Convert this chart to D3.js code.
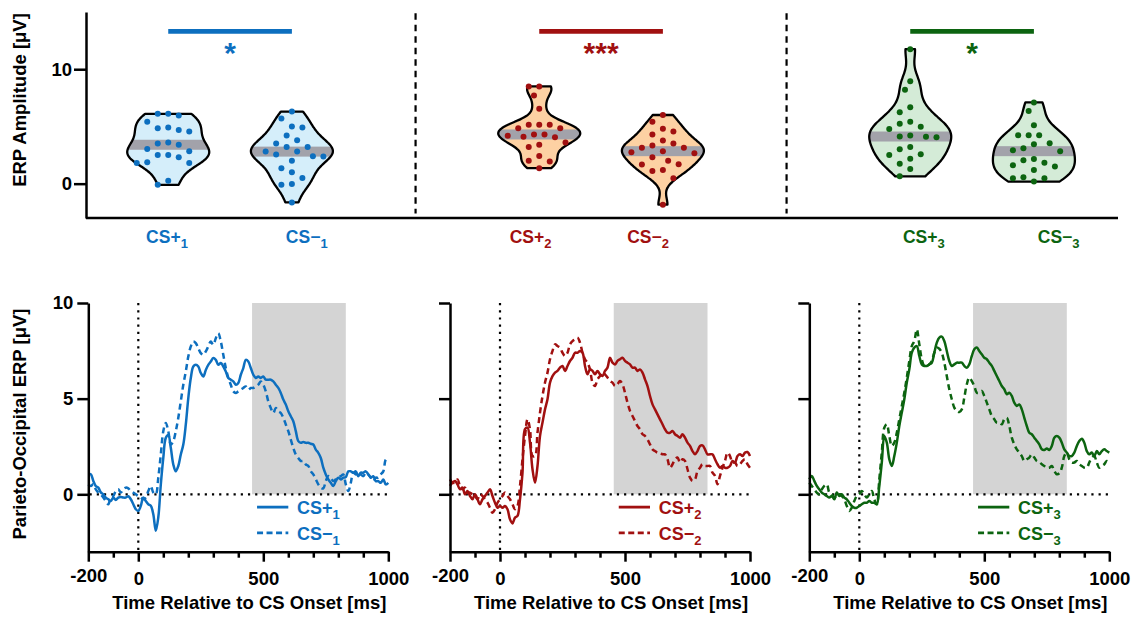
<!DOCTYPE html>
<html><head><meta charset="utf-8">
<script src="https://cdn.jsdelivr.net/npm/d3@7"></script>
<style>
html,body{margin:0;padding:0;background:#fff;}
svg{display:block;font-family:"Liberation Sans",Arial,sans-serif;font-weight:bold;}
</style></head>
<body><svg id="c" width="1134" height="617"></svg>
<script>
// ---------- DATA ----------
const pairNames = ["1","2","3"];
const seriesColors = ["#0d6fbf","#a11010","#0c6410"];
const violinFills = ["#d5eefa","#fdd1a3","#d4ebd7"];
const significance = ["*","***","*"];
const topTicks = [0,10];
const bottomYTicks = [0,5,10];
const bottomXLabels = [-200,0,500,1000];
const shadeWindow = [455,830];
// per-participant ERP amplitudes (µV)
const csPlus1  = [6.1,6.1,5.96,5.4,4.9,4.85,4.7,4.56,3.5,3.4,3.6,3.04,2.5,2.5,2.83,2.3,1.8,1.8,1.87,0.26,-0.1];
const csMinus1 = [6.3,5.7,4.9,5.0,4.2,3.8,3.5,3.2,3.2,2.8,2.8,2.54,2.4,2.37,2.0,1.35,1.0,0.5,-0.03,-0.1,-1.64];
const csPlus2  = [8.5,8.5,7.7,6.55,5.15,5.15,5.15,4.85,4.85,4.3,4.3,4.06,4.1,4.18,3.4,3.2,3.6,2.42,1.93,2.0,1.35];
const csMinus2 = [6.0,5.4,4.56,4.8,4.3,3.77,3.5,3.13,3.13,3.33,2.84,2.66,2.75,2.3,2.0,1.67,1.7,1.1,1.2,0.47,-1.84];
const csPlus3  = [11.75,8.95,8.2,6.67,6.23,5.4,5.23,4.97,4.77,4.1,4.12,4.2,4.06,3.0,3.2,2.57,2.5,2.17,1.73,1.29,0.64];
const csMinus3 = [7.1,6.35,5.1,4.24,4.24,4.24,3.45,3.53,2.92,2.84,3.1,1.82,2.05,2.16,1.6,1.2,1.49,0.56,0.47,0.47,0.18];
// category label positions (category units), order: CS+1, CS-1, CS+2, CS-2, CS+3, CS-3
const labelPos = [-0.01,1.12,2.93,3.88,6.11,7.2];
// ERP time axis (ms)
const times = d3.range(-200,1001,10);
const erpPlus1 = [1.04,1.05,0.7,0.43,0.35,0.1,0,-0.17,-0.26,-0.35,
 -0.17,-0.3,-0.17,-0.14,-0.17,-0.17,-0.1,-0.26,-0.52,-0.78,
 -0.87,-0.6,-0.17,-0.35,-0.52,-0.6,-1.04,-1.9,-1.2,0.5,
 1.9,2.95,3.1,2.43,1.56,1.2,1.48,2.08,2.6,3.65,
 5.03,6.08,6.68,6.77,6.68,6.34,6.16,6.5,6.77,6.94,
 7.12,7.03,6.77,6.86,6.68,6.42,6.08,5.99,5.9,5.73,
 5.82,6.25,6.6,7.03,6.94,6.6,6.25,6.08,6.16,6.08,
 6.16,5.99,5.99,5.99,5.9,5.73,5.56,5.3,4.95,4.69,
 4.34,4.08,3.82,3.3,2.78,2.69,2.74,2.69,2.69,2.64,
 2.6,2.34,2.17,1.9,1.39,1.04,0.78,0.6,0.43,0.69,
 0.87,0.78,0.87,0.9,1.2,1.2,1.13,1.2,0.95,1.13,
 1.13,1.2,1.04,0.87,0.95,0.69,0.69,0.6,0.78,0.52,
 0.6];
const erpMinus1 = [0.52,0.43,0.52,0.26,0.09,0,-0.17,-0.35,-0.52,-0.17,
 -0.09,0.17,0.26,0.09,0.26,0.35,0.31,0.17,0.09,0,
 -0.09,-0.17,-0.26,-0.17,0.17,0.43,0.09,0,0.87,2.08,
 3.3,3.73,3.3,2.6,2.78,3.3,4.0,4.86,5.73,6.42,
 7.2,7.73,7.99,7.9,7.64,7.38,7.29,7.47,7.73,7.99,
 7.81,8.16,8.42,7.99,7.29,6.6,6.08,5.73,5.38,5.3,
 5.38,5.47,5.56,5.64,5.47,5.56,5.56,5.64,5.73,5.9,
 5.73,5.38,4.86,4.51,4.25,4.51,4.34,4.25,4.0,3.65,
 3.3,2.86,2.43,2.08,1.9,1.74,1.74,1.56,1.48,1.2,
 1.04,0.78,0.52,0.35,0.31,0.69,0.95,0.87,0.69,0.78,
 0.87,0.95,1.04,0.52,0.17,0.6,1.13,1.04,1.13,1.04,
 0.95,1.13,1.04,0.87,0.69,0.87,0.87,1.04,1.2,1.82,
 1.9];
const erpPlus2 = [0.44,0.61,0.7,0.52,0.26,0.35,0,0.17,-0.09,-0.26,
 0,-0.26,-0.52,-0.26,-0.09,0.09,0.26,-0.09,-0.44,-0.7,
 -0.61,-0.7,-0.61,-0.78,-1.31,-1.52,-1.22,-1.13,-0.26,1.13,
 3.4,3.48,2.7,1.31,0.61,1.48,3.05,3.75,4.44,4.97,
 5.84,6.18,6.36,6.45,6.62,6.71,6.45,6.71,6.97,7.14,
 7.4,7.4,7.49,7.4,6.71,6.27,6.53,6.45,6.27,6.45,
 6.27,6.18,6.45,6.62,7.14,6.88,6.79,6.97,7.06,7.14,
 6.97,6.88,6.79,6.62,6.62,6.45,6.53,6.36,6.01,5.66,
 5.14,4.7,4.44,4.18,3.92,3.66,3.4,3.22,3.22,3.31,
 3.14,3.05,2.96,3.14,2.96,2.7,2.53,2.26,2.09,2.26,
 2.53,2.56,2.35,2.09,2.09,2.09,1.83,1.57,1.39,1.48,
 1.39,1.39,1.48,1.74,1.66,2.0,2.09,2.0,2.18,2.21,
 2.0];
const erpMinus2 = [0.78,0.61,0.61,0.78,0.44,0.26,0.35,0.09,0.09,0,
 -0.09,-0.26,0,-0.09,-0.26,-0.44,-0.7,-0.96,-0.78,-0.44,
 -0.26,-0.09,0.09,-0.09,-0.26,-0.52,-0.78,-0.61,0.44,1.83,
 3.05,3.92,3.4,2.0,2.0,3.22,4.27,5.14,5.84,6.36,
 7.06,7.49,7.84,7.75,7.67,7.4,7.23,7.4,7.84,8.01,
 8.1,8.19,7.93,7.4,7.06,6.88,6.53,5.84,5.66,6.01,
 6.18,6.36,6.27,6.1,5.92,5.84,5.66,5.75,5.92,5.75,
 5.31,4.79,4.36,4.09,3.83,3.57,3.4,3.14,3.05,2.87,
 2.61,2.35,2.26,2.18,2.18,2.09,2.09,1.83,1.39,1.57,
 1.83,1.92,1.66,1.83,1.74,1.31,0.87,0.7,0.78,1.22,
 1.39,1.57,1.48,1.48,1.48,1.13,0.96,0.52,0.96,1.39,
 1.74,2.18,2.0,1.66,1.66,1.48,1.57,1.74,1.83,1.57,
 1.39];
const erpPlus3 = [0.78,0.96,0.7,0.44,0.26,0.09,0,-0.09,-0.17,-0.09,
 -0.26,0.09,-0.09,0,-0.17,-0.26,-0.44,-0.61,-0.7,-0.7,
 -0.61,-0.52,-0.44,-0.44,-0.35,-0.44,-0.44,-0.52,0.44,1.66,
 3.05,2.7,1.83,1.48,2.0,2.7,3.57,4.27,4.97,5.84,
 6.53,7.4,7.67,7.75,7.23,6.79,6.71,6.71,6.79,6.88,
 7.4,7.93,8.19,8.24,8.01,7.49,6.97,6.71,6.79,6.88,
 6.88,6.88,6.71,6.62,6.79,7.23,7.58,7.67,7.49,7.32,
 7.14,7.06,6.88,6.71,6.45,6.18,5.92,5.66,5.49,5.23,
 5.31,5.14,4.79,4.62,4.7,4.44,4.0,3.57,3.22,3.14,
 2.96,2.79,2.61,2.35,2.32,2.39,2.32,2.53,2.96,3.05,
 2.96,2.7,2.35,2.18,2.0,2.0,2.18,2.53,2.79,2.91,
 2.7,2.26,2.09,2.18,2.0,2.26,2.09,2.26,2.35,2.26,
 2.18];
const erpMinus3 = [0.61,0.44,0.26,0.09,0,0.26,0.44,0.52,0.09,0,
 -0.17,-0.09,0,-0.09,-0.26,-0.61,-0.87,-0.7,-0.35,-0.09,
 0,0.17,0,-0.17,0,0.17,-0.26,-0.52,0.78,2.18,
 3.48,3.66,3.05,2.53,2.7,3.22,3.92,4.62,5.31,6.1,
 6.97,7.75,8.01,8.62,7.84,7.06,6.71,6.71,6.79,6.97,
 7.4,7.67,7.61,7.4,6.88,6.18,5.49,4.97,4.53,4.36,
 4.3,4.44,5.05,5.75,6.1,5.92,5.66,5.31,5.31,5.4,
 5.14,4.79,4.44,4.09,3.92,3.75,3.75,3.66,3.92,4.0,
 3.57,2.96,2.61,2.35,2.18,2.0,1.74,1.83,1.92,2.09,
 1.92,1.74,1.69,1.57,1.48,1.39,1.39,1.48,1.22,1.05,
 1.1,1.39,2.0,2.18,1.83,1.66,1.66,1.74,1.57,1.48,
 1.39,1.39,1.66,1.92,2.0,1.66,1.39,1.48,1.57,1.74,
 1.66];

const violinData = [[csPlus1,csMinus1],[csPlus2,csMinus2],[csPlus3,csMinus3]];
const erpData = [[erpPlus1,erpMinus1],[erpPlus2,erpMinus2],[erpPlus3,erpMinus3]];

// ---------- DRAW ----------
const svg = d3.select("#c");
const FS = 18.5;
const AX = 2.5;
const FONT = "Liberation Sans, Arial, sans-serif";

// ===== top panel =====
const xTop = d3.scaleLinear().domain([-0.665,7.68]).range([86,1118]);
const yTop = d3.scaleLinear().domain([-3,15]).range([218,12]);
const defs = svg.append("defs");
const gTop = svg.append("g");

function silverman(v){
  const sd = d3.deviation(v);
  const s = v.slice().sort(d3.ascending);
  const iqr = (d3.quantileSorted(s,0.75)-d3.quantileSorted(s,0.25))/1.34;
  return 0.9*Math.min(sd,iqr)*Math.pow(v.length,-0.2);
}
function density(v,h,pts){
  return pts.map(y => [y, d3.mean(v, d => Math.exp(-0.5*((y-d)/h)**2))/h]);
}
function swarm(vals,cx,D,step){
  const pts = vals.map(v=>({v,y:yTop(v)})).sort((a,b)=>a.y-b.y);
  const placed=[];
  for(const p of pts){
    for(let k=0;k<30;k++){
      const off = k===0?0:(k%2?-1:1)*Math.ceil(k/2)*step;
      const x=cx+off;
      if(placed.every(q=>Math.hypot(q.x-x,q.y-p.y)>=D)){p.x=x;placed.push(p);break;}
    }
  }
  return placed;
}

// separators
[2,5].forEach(p=>{
  gTop.append("line").attr("x1",xTop(p)).attr("x2",xTop(p))
    .attr("y1",yTop(14.9)).attr("y2",yTop(-2.6))
    .attr("stroke","#000").attr("stroke-width",2.2).attr("stroke-dasharray","6.5,5");
});

const halfW = 41;
violinData.forEach((pair,pi)=>{
  const col = seriesColors[pi];
  pair.forEach((vals,ci)=>{
    const pos = pi*3+ci;
    const cx = xTop(pos);
    const h = silverman(vals);
    const lo = d3.min(vals), hi = d3.max(vals);
    const pts = d3.range(0,81).map(i=>lo+(hi-lo)*i/80);
    const dens = density(vals,h,pts);
    const mx = d3.max(dens,d=>d[1]);
    const areaV = d3.area().x0(d=>cx-halfW*d[1]/mx).x1(d=>cx+halfW*d[1]/mx).y(d=>yTop(d[0])).curve(d3.curveCatmullRom);
    const pathD = areaV(dens);
    const id = "clip"+pos;
    defs.append("clipPath").attr("id",id).append("path").attr("d",pathD);
    gTop.append("path").attr("d",pathD).attr("fill",violinFills[pi]);
    const med = d3.median(vals);
    gTop.append("rect").attr("clip-path",`url(#${id})`)
      .attr("x",cx-halfW-2).attr("width",2*halfW+4)
      .attr("y",yTop(med)-5).attr("height",10).attr("fill","#a2a2aa");
    gTop.append("path").attr("d",pathD).attr("fill","none").attr("stroke","#000")
      .attr("stroke-width",2.3).attr("stroke-linejoin","round");
    swarm(vals,cx,10,5.25).forEach(p=>{
      gTop.append("circle").attr("cx",p.x).attr("cy",p.y).attr("r",3).attr("fill",col);
    });
    const t = gTop.append("text").attr("x",xTop(labelPos[pi*2+ci])).attr("y",243)
      .attr("text-anchor","middle").attr("fill",col).attr("font-size",17.5);
    t.append("tspan").text(ci===0?"CS+":"CS\u2212");
    t.append("tspan").attr("dy",5).attr("font-size",13).text(pairNames[pi]);
  });
  gTop.append("line").attr("x1",xTop(pi*3)).attr("x2",xTop(pi*3+1))
    .attr("y1",31.3).attr("y2",31.3).attr("stroke",col).attr("stroke-width",4.8);
  gTop.append("text").attr("x",xTop(pi*3+0.5)).attr("y",63)
    .attr("text-anchor","middle").attr("fill",col).attr("font-size",30).text(significance[pi]);
});

// top axes
gTop.append("line").attr("x1",86).attr("x2",1118).attr("y1",218).attr("y2",218)
  .attr("stroke","#000").attr("stroke-width",AX);
const yAxTop = gTop.append("g").attr("transform","translate(86,0)")
  .call(d3.axisLeft(yTop).tickValues(topTicks).tickSize(12).tickSizeOuter(0).tickPadding(2));
yAxTop.select(".domain").attr("stroke-width",AX);
yAxTop.selectAll(".tick line").attr("stroke-width",AX);
yAxTop.selectAll("text").attr("font-size",FS).attr("font-family",FONT).attr("font-weight","bold");
gTop.append("text").attr("transform","translate(26,100) rotate(-90)")
  .attr("text-anchor","middle").attr("font-size",FS).text("ERP Amplitude [\u03bcV]");

// ===== bottom panels =====
const panelRanges = [[88.3,388.3],[450,750],[809.3,1109.3]];
const yB = d3.scaleLinear().domain([-3,10]).range([551.7,303]);
const lineGen = d3.line().curve(d3.curveCatmullRom.alpha(0.5));

erpData.forEach((pair,pi)=>{
  const x = d3.scaleLinear().domain([-200,1000]).range(panelRanges[pi]);
  const g = svg.append("g");
  const col = seriesColors[pi];
  g.append("rect").attr("x",x(shadeWindow[0])).attr("width",x(shadeWindow[1])-x(shadeWindow[0]))
    .attr("y",yB(10)).attr("height",yB(0)-yB(10)).attr("fill","#d4d4d4");
  g.append("line").attr("x1",x(-195)).attr("x2",x(1000)).attr("y1",yB(0)).attr("y2",yB(0))
    .attr("stroke","#000").attr("stroke-width",2.2).attr("stroke-dasharray","2.2,5");
  g.append("line").attr("x1",x(0)).attr("x2",x(0)).attr("y1",yB(10)).attr("y2",yB(-3))
    .attr("stroke","#000").attr("stroke-width",2.2).attr("stroke-dasharray","2.2,5");
  pair.forEach((vals,ci)=>{
    g.append("path").attr("d",lineGen(times.map((t,i)=>[x(t),yB(vals[i])])))
      .attr("fill","none").attr("stroke",col).attr("stroke-width",2.5)
      .attr("stroke-dasharray",ci===0?null:"6,4").attr("stroke-linejoin","round");
  });
  [[-0.67,0],[-2.02,1]].forEach(([v,ci])=>{
    g.append("line").attr("x1",x(475)).attr("x2",x(600)).attr("y1",yB(v)).attr("y2",yB(v))
      .attr("stroke",col).attr("stroke-width",2.8).attr("stroke-dasharray",ci===0?null:"6,3.5");
    const t = g.append("text").attr("x",x(635)).attr("y",yB(v)+7).attr("fill",col).attr("font-size",18);
    t.append("tspan").text(ci===0?"CS+":"CS\u2212");
    t.append("tspan").attr("dy",5).attr("font-size",13).text(pairNames[pi]);
  });
  const xa = g.append("g").attr("transform",`translate(0,${yB(-3)})`)
    .call(d3.axisBottom(x).tickValues(d3.range(-200,1001,100)).tickSize(6).tickSizeOuter(0)
      .tickFormat(d=>bottomXLabels.includes(d)?String(d):""));
  xa.select(".domain").attr("stroke-width",AX);
  xa.selectAll(".tick line").attr("stroke-width",AX)
    .attr("y2",d=>bottomXLabels.includes(d)?10:6);
  xa.selectAll("text").attr("y",d=>d===-200?17:20).attr("font-size",FS)
    .attr("font-family",FONT).attr("font-weight","bold");
  const ya = g.append("g").attr("transform",`translate(${panelRanges[pi][0]},0)`)
    .call(d3.axisLeft(yB).tickValues(bottomYTicks).tickSize(11).tickSizeOuter(0).tickPadding(4)
      .tickFormat(d=>pi===0?String(d):""));
  ya.select(".domain").attr("stroke-width",AX);
  ya.selectAll(".tick line").attr("stroke-width",AX);
  ya.selectAll("text").attr("font-size",FS)
    .attr("font-family",FONT).attr("font-weight","bold");
  g.append("text").attr("x",(panelRanges[pi][0]+panelRanges[pi][1])/2+11).attr("y",608.5)
    .attr("text-anchor","middle").attr("font-size",FS).text("Time Relative to CS Onset [ms]");
});
svg.append("text").attr("transform","translate(26,424) rotate(-90)")
  .attr("text-anchor","middle").attr("font-size",FS).text("Parieto-Occipital ERP [\u03bcV]");
</script>
</body></html>
